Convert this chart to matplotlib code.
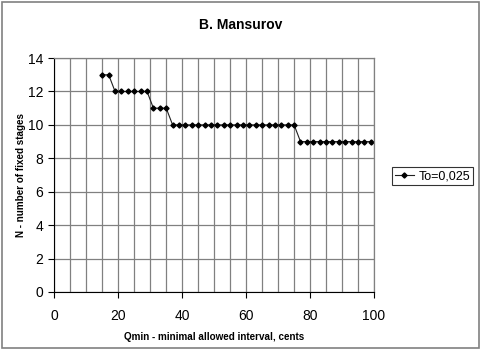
import matplotlib.pyplot as plt
from matplotlib.patches import Rectangle

# Number of fixed stages vs. minimal allowed interval
qmin = [15, 17, 19, 21, 23, 25, 27, 29, 31, 33, 35,
        37, 39, 41, 43, 45, 47, 49, 51, 53, 55, 57, 59, 61, 63, 65, 67, 69, 71, 73, 75,
        77, 79, 81, 83, 85, 87, 89, 91, 93, 95, 97, 99]
stages = [13, 13, 12, 12, 12, 12, 12, 12, 11, 11, 11,
          10, 10, 10, 10, 10, 10, 10, 10, 10, 10, 10, 10, 10, 10, 10, 10, 10, 10, 10, 10,
          9, 9, 9, 9, 9, 9, 9, 9, 9, 9, 9, 9]

plt.rcParams['font.family'] = ['Liberation Sans', 'DejaVu Sans']

fig = plt.figure(figsize=(4.82, 3.5), dpi=100)
ax = fig.add_axes([0.1127, 0.166, 0.6633, 0.668])

ax.plot(qmin, stages, color='#202020', linewidth=0.8, marker='D',
        markersize=2.6, markerfacecolor='black', markeredgecolor='black',
        label='To=0,025')

ax.set_xlim(0, 100)
ax.set_ylim(0, 14)
ax.set_xticks(range(0, 101, 20))
ax.set_xticks(range(0, 101, 5), minor=True)
ax.set_yticks(range(0, 15, 2))
ax.grid(which='both', axis='x', color='#808080', linewidth=0.9)
ax.grid(which='major', axis='y', color='#808080', linewidth=0.9)
ax.tick_params(axis='x', which='minor', length=0)
ax.tick_params(axis='both', which='major', length=4, width=0.8,
               color='black', labelsize=10)
ax.tick_params(axis='y', pad=4)
ax.tick_params(axis='x', pad=8)

for side in ['top', 'right']:
    ax.spines[side].set_color('#808080')
    ax.spines[side].set_linewidth(0.9)
for side in ['left', 'bottom']:
    ax.spines[side].set_color('black')
    ax.spines[side].set_linewidth(0.8)

ax.set_xlabel('Qmin - minimal allowed interval, cents', fontsize=7.1,
              fontweight='bold')
ax.xaxis.set_label_coords(0.5, -0.171)
ax.set_ylabel('N - number of fixed stages', fontsize=7.1, fontweight='bold')
ax.yaxis.set_label_coords(-0.088, 0.5)
fig.text(0.5, 0.928, 'B. Mansurov', ha='center', va='center',
         fontsize=10, fontweight='bold')

leg = fig.legend(loc='center left', bbox_to_anchor=(0.813, 0.497),
                 fontsize=9, frameon=True, fancybox=False,
                 handlelength=1.5, handletextpad=0.4, borderpad=0.25,
                 borderaxespad=0)
leg.get_frame().set_edgecolor('black')
leg.get_frame().set_linewidth(0.8)

# outer chart border
fig.patches.append(Rectangle((0.004, 0.006), 0.99, 0.988, transform=fig.transFigure,
                             fill=False, edgecolor='#808080', linewidth=1.2))

fig.savefig('out.png', dpi=100)
